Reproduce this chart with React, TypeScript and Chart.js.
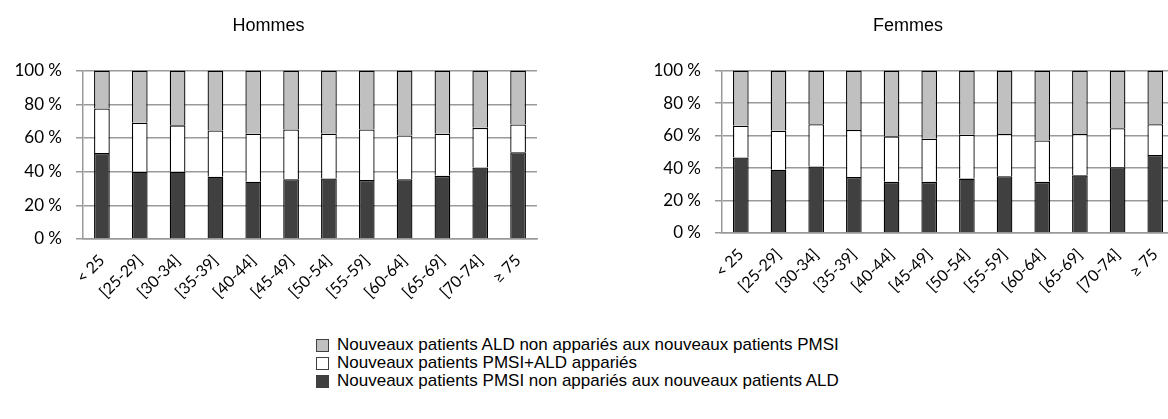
import React, { useEffect, useRef } from "react";
import { Chart, registerables } from "chart.js";

Chart.register(...registerables);

const categories = ["< 25", "[25-29]", "[30-34]", "[35-39]", "[40-44]", "[45-49]", "[50-54]", "[55-59]", "[60-64]", "[65-69]", "[70-74]", "≥ 75"];

const seriesLabels = [
  "Nouveaux patients ALD non appariés aux nouveaux patients PMSI",
  "Nouveaux patients PMSI+ALD appariés",
  "Nouveaux patients PMSI non appariés aux nouveaux patients ALD",
];

const seriesColors = ["#c0c0c0", "#ffffff", "#404040"];

// Hommes
const hommesPmsiOnly = [51, 40, 40, 37, 34, 35.5, 36, 35, 35.5, 37.5, 42.5, 51.5];
const hommesMatched = [26.5, 29, 27.5, 27.5, 28.5, 29.5, 26.5, 30, 26, 25, 23.5, 16.5];
const hommesAldOnly = [22.5, 31, 32.5, 35.5, 37.5, 35, 37.5, 35, 38.5, 37.5, 34, 32];

// Femmes
const femmesPmsiOnly = [46.5, 39, 41, 34.5, 31.5, 31.5, 33.5, 35, 31.5, 35.5, 40.5, 48];
const femmesMatched = [19.5, 24, 26, 29, 28, 26.5, 27, 26, 25.5, 25.5, 24, 19];
const femmesAldOnly = [34, 37, 33, 36.5, 40.5, 42, 39.5, 39, 43, 39, 35.5, 33];

const yTicks = [0, 20, 40, 60, 80, 100];

const TICK_FONT = "Lato, 'Liberation Sans', sans-serif";
const TEXT_FONT = "'Liberation Sans', Arial, sans-serif";

function makeConfig(title: string, pmsi: number[], matched: number[], ald: number[], padRight: number, xHeight: number): any {
  const ds = (label: string, data: number[], color: string) => ({
    label,
    data,
    backgroundColor: color,
    borderColor: "#000000",
    borderWidth: 1.3,
    barPercentage: 0.415,
    categoryPercentage: 1,
  });
  return {
    type: "bar",
    data: {
      labels: categories,
      datasets: [
        ds(seriesLabels[2], pmsi, seriesColors[2]),
        ds(seriesLabels[1], matched, seriesColors[1]),
        ds(seriesLabels[0], ald, seriesColors[0]),
      ],
    },
    options: {
      animation: false,
      responsive: false,
      maintainAspectRatio: false,
      layout: { padding: { left: 0, right: padRight, top: 0, bottom: 0 } },
      plugins: {
        legend: { display: false },
        tooltip: { enabled: false },
        title: {
          display: true,
          text: title,
          color: "#000",
          font: { family: TEXT_FONT, size: 18, weight: "normal", lineHeight: 1.2 },
          padding: { top: 15, bottom: 34 },
        },
      },
      scales: {
        x: {
          stacked: true,
          grid: { display: false, drawTicks: false },
          border: { display: true, color: "#9a9a9a", width: 1.5 },
          ticks: {
            color: "#000",
            font: { family: TICK_FONT, size: 16 },
            minRotation: 45,
            maxRotation: 45,
            autoSkip: false,
            padding: 12,
          },
          afterFit: (scale: any) => {
            scale.height = xHeight;
          },
        },
        y: {
          stacked: true,
          min: 0,
          max: 100,
          afterBuildTicks: (scale: any) => {
            scale.ticks = yTicks.map((v) => ({ value: v }));
          },
          grid: { color: "#9a9a9a", lineWidth: 1.5, tickLength: 7 },
          border: { display: true, color: "#9a9a9a", width: 1.5 },
          ticks: {
            color: "#000",
            font: { family: TICK_FONT, size: 17 },
            padding: 14,
            callback: (v: any) => v + " %",
          },
          afterFit: (scale: any) => {
            scale.width = 83;
          },
        },
      },
    },
  };
}

function BarChart(props: { config: any; width: number; height: number; left: number; top: number }) {
  const ref = useRef<HTMLCanvasElement | null>(null);
  useEffect(() => {
    if (!ref.current) return;
    const chart = new Chart(ref.current, props.config);
    return () => chart.destroy();
  }, []);
  return (
    <canvas
      ref={ref}
      width={props.width}
      height={props.height}
      style={{ position: "absolute", left: props.left, top: props.top, width: props.width, height: props.height }}
    />
  );
}

export default function App() {
  const hommes = makeConfig("Hommes", hommesPmsiOnly, hommesMatched, hommesAldOnly, 23, 81);
  const femmes = makeConfig("Femmes", femmesPmsiOnly, femmesMatched, femmesAldOnly, 4, 81);
  const legendOrder = [0, 1, 2];
  return (
    <div
      style={{
        position: "fixed",
        left: 0,
        top: 0,
        width: 1168,
        height: 419,
        overflow: "hidden",
        background: "#fff",
      }}
    >
      <BarChart config={hommes} width={560} height={320} left={0} top={0} />
      <BarChart config={femmes} width={542} height={314} left={639} top={0} />
      <div
        style={{
          position: "absolute",
          left: 316,
          top: 336,
          fontFamily: TEXT_FONT,
          fontSize: 17,
          lineHeight: "18px",
          color: "#000",
        }}
      >
        {legendOrder.map((i) => (
          <div key={i} style={{ display: "flex", alignItems: "center", whiteSpace: "nowrap" }}>
            <span
              style={{
                display: "inline-block",
                width: 11,
                height: 11,
                background: seriesColors[i],
                border: "1px solid #404040",
                marginRight: 8,
              }}
            />
            <span>{seriesLabels[i]}</span>
          </div>
        ))}
      </div>
    </div>
  );
}
